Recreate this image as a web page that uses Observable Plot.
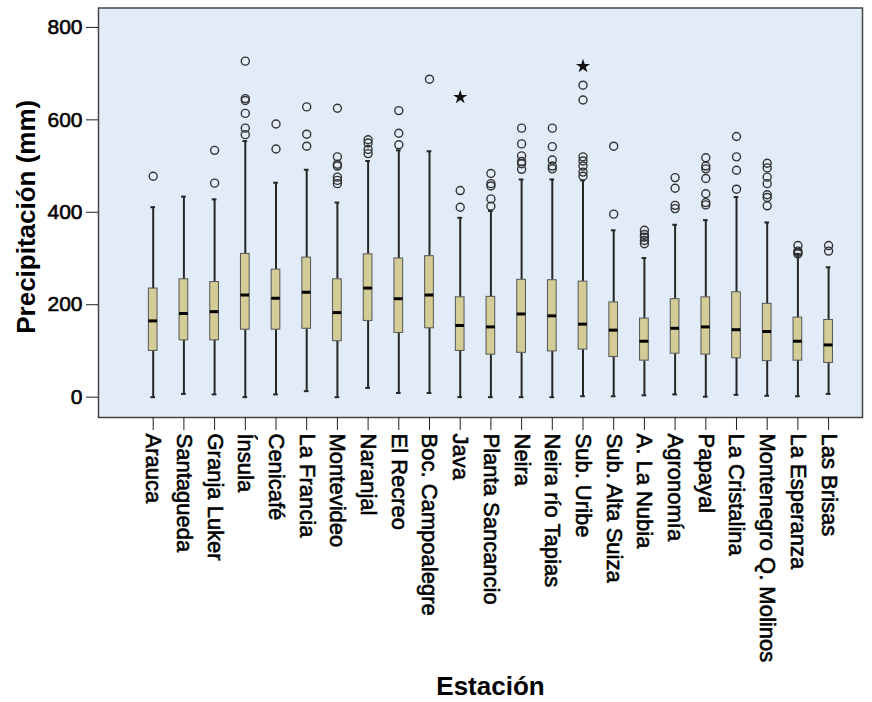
<!DOCTYPE html>
<html>
<head>
<meta charset="utf-8">
<script src="https://cdn.jsdelivr.net/npm/d3@7"></script>
<script src="https://cdn.jsdelivr.net/npm/@observablehq/plot@0.6"></script>
<style>
  html, body { margin: 0; padding: 0; background: #ffffff; }
  #chart svg { display: block; }
</style>
</head>
<body>
<div id="chart"></div>
<script>
// ---- Data (Precipitación mensual, mm) ----
const stations = ["Arauca","Santagueda","Granja Luker","Ínsula","Cenicafé","La Francia","Montevideo","Naranjal","El Recreo","Boc. Campoalegre","Java","Planta Sancancio","Neira","Neira río Tapias","Sub. Uribe","Sub. Alta Suiza","A. La Nubia","Agronomía","Papayal","La Cristalina","Montenegro Q. Molinos","La Esperanza","Las Brisas"];
const whiskerLow  = [0, 7, 6, 0, 6, 13, 0, 20, 9, 9, 0, 0, 0, 0, 2, 2, 4, 6, 1, 5, 3, 2, 7];
const q1          = [100, 123, 123, 146, 146, 148, 121, 165, 139, 149, 100, 92, 96, 99, 103, 87, 79, 94, 92, 84, 78, 79, 74];
const median      = [165, 181, 185, 221, 214, 227, 183, 236, 213, 221, 155, 152, 180, 176, 158, 145, 121, 149, 152, 146, 142, 121, 113];
const q3          = [235, 255, 249, 310, 276, 302, 255, 309, 300, 305, 216, 217, 254, 253, 250, 205, 170, 212, 216, 227, 202, 172, 167];
const whiskerHigh = [411, 434, 428, 554, 464, 492, 421, 511, 534, 532, 388, 403, 471, 471, 469, 361, 301, 373, 383, 433, 378, 310, 281];

const outliers = [
  ["Arauca", 478],
  ["Granja Luker", 534], ["Granja Luker", 463],
  ["Ínsula", 727], ["Ínsula", 646], ["Ínsula", 642], ["Ínsula", 614], ["Ínsula", 582], ["Ínsula", 568],
  ["Cenicafé", 591], ["Cenicafé", 537],
  ["La Francia", 628], ["La Francia", 569], ["La Francia", 543],
  ["Montevideo", 625], ["Montevideo", 520], ["Montevideo", 504], ["Montevideo", 500], ["Montevideo", 476], ["Montevideo", 469], ["Montevideo", 462],
  ["Naranjal", 557], ["Naranjal", 550], ["Naranjal", 536], ["Naranjal", 527],
  ["El Recreo", 620], ["El Recreo", 571], ["El Recreo", 546],
  ["Boc. Campoalegre", 688],
  ["Java", 447], ["Java", 411],
  ["Planta Sancancio", 484], ["Planta Sancancio", 462], ["Planta Sancancio", 457], ["Planta Sancancio", 429], ["Planta Sancancio", 413],
  ["Neira", 582], ["Neira", 548], ["Neira", 522], ["Neira", 510], ["Neira", 505], ["Neira", 493],
  ["Neira río Tapias", 582], ["Neira río Tapias", 542], ["Neira río Tapias", 513], ["Neira río Tapias", 500], ["Neira río Tapias", 494],
  ["Sub. Uribe", 675], ["Sub. Uribe", 643], ["Sub. Uribe", 520], ["Sub. Uribe", 511], ["Sub. Uribe", 500], ["Sub. Uribe", 487], ["Sub. Uribe", 478],
  ["Sub. Alta Suiza", 543], ["Sub. Alta Suiza", 396],
  ["A. La Nubia", 361], ["A. La Nubia", 352], ["A. La Nubia", 346], ["A. La Nubia", 339], ["A. La Nubia", 332],
  ["Agronomía", 475], ["Agronomía", 452], ["Agronomía", 415], ["Agronomía", 408],
  ["Papayal", 518], ["Papayal", 500], ["Papayal", 494], ["Papayal", 473], ["Papayal", 440], ["Papayal", 421], ["Papayal", 416],
  ["La Cristalina", 564], ["La Cristalina", 520], ["La Cristalina", 491], ["La Cristalina", 450],
  ["Montenegro Q. Molinos", 506], ["Montenegro Q. Molinos", 496], ["Montenegro Q. Molinos", 476], ["Montenegro Q. Molinos", 462], ["Montenegro Q. Molinos", 438], ["Montenegro Q. Molinos", 432], ["Montenegro Q. Molinos", 414],
  ["La Esperanza", 328], ["La Esperanza", 316], ["La Esperanza", 313], ["La Esperanza", 310],
  ["Las Brisas", 328], ["Las Brisas", 316]
];
const extremes = [["Java", 649], ["Sub. Uribe", 716]];
const yTicks = [0, 200, 400, 600, 800];
const yLabel = "Precipitación (mm)";
const xLabel = "Estación";

// ---- Tables built from the arrays ----
const boxes = stations.map((s, i) => ({station: s, lo: whiskerLow[i], q1: q1[i], med: median[i], q3: q3[i], hi: whiskerHigh[i]}));
const outs = outliers.map(([station, value]) => ({station, value}));
const exts = extremes.map(([station, value]) => ({station, value}));

const font = "'Liberation Sans', Arial, Helvetica, sans-serif";

const chart = Plot.plot({
  width: 872,
  height: 702,
  marginLeft: 98,
  marginRight: 10,
  marginTop: 7.5,
  marginBottom: 285,
  style: {fontFamily: font, fontSize: "21px", background: "#ffffff", color: "#000"},
  x: {type: "band", domain: stations, range: [148.35, 832.45], paddingInner: 0.7166, paddingOuter: 0, round: false, label: null},
  y: {domain: [-44, 842], label: null},
  marks: [
    Plot.frame({fill: "#e2ecf9", stroke: "none"}),
    // whiskers
    Plot.ruleX(boxes, {x: "station", y1: "lo", y2: "q1", stroke: "#262626", strokeWidth: 2}),
    Plot.ruleX(boxes, {x: "station", y1: "q3", y2: "hi", stroke: "#262626", strokeWidth: 2}),
    Plot.tickY(boxes, {x: "station", y: "lo", stroke: "#262626", strokeWidth: 2, insetLeft: 2, insetRight: 2}),
    Plot.tickY(boxes, {x: "station", y: "hi", stroke: "#262626", strokeWidth: 2, insetLeft: 2, insetRight: 2}),
    // boxes
    Plot.barY(boxes, {x: "station", y1: "q1", y2: "q3", fill: "#d3cc97", stroke: "#555555", strokeWidth: 1}),
    Plot.tickY(boxes, {x: "station", y: "med", stroke: "#000000", strokeWidth: 3}),
    // outliers and extremes
    Plot.dot(outs, {x: "station", y: "value", r: 4, stroke: "#333333", strokeWidth: 1.4, fill: "none"}),
    Plot.dot(exts, {x: "station", y: "value", symbol: "star", r: 4.5, fill: "#111111", stroke: "none"}),
    Plot.frame({stroke: "#444444", strokeWidth: 1.5}),
    // axes
    Plot.axisY({ticks: yTicks, tickSize: 12, tickPadding: 4, fontSize: 21, stroke: "#222", label: null}),
    Plot.axisX({tickSize: 13, tickPadding: 3, tickRotate: 90, textAnchor: "start", fontSize: 22, stroke: "#222", label: null}),
    // axis titles
    Plot.text([yLabel], {frameAnchor: "left", dx: -72, dy: 4, rotate: -90, textAnchor: "middle", lineAnchor: "middle", text: d => d, fontSize: 26, fontWeight: "bold", fill: "#000"}),
    Plot.text([xLabel], {frameAnchor: "bottom", dx: 10, dy: 269, textAnchor: "middle", lineAnchor: "middle", text: d => d, fontSize: 26, fontWeight: "bold", fill: "#000"})
  ]
});
document.getElementById("chart").appendChild(chart);

// slightly heavier tick labels, as in the reference rendering
d3.select(chart).selectAll('g[aria-label="x-axis tick label"] text, g[aria-label="y-axis tick label"] text')
  .attr("stroke", "#000").attr("stroke-width", 0.6).attr("paint-order", "stroke");
</script>
</body>
</html>
